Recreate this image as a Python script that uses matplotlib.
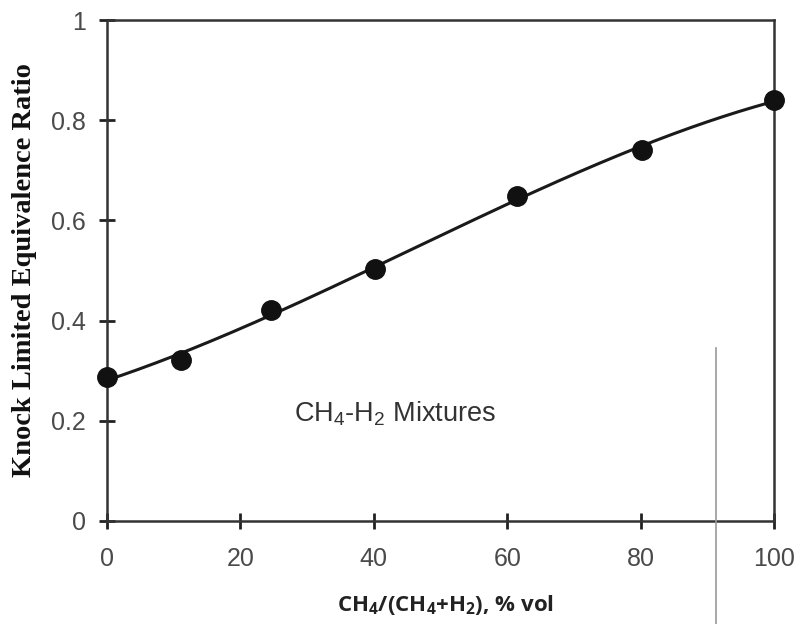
import numpy as np
import matplotlib
matplotlib.use("Agg")
import matplotlib.pyplot as plt

# Data
ch4_pct = [0, 11.1, 24.6, 40.2, 61.5, 80.2, 100]
klr = [0.287, 0.321, 0.421, 0.503, 0.649, 0.741, 0.840]
xticks = [0, 20, 40, 60, 80, 100]
yticks = [0, 0.2, 0.4, 0.6, 0.8, 1]
ytick_labels = ["0", "0.2", "0.4", "0.6", "0.8", "1"]

fig = plt.figure(figsize=(7.98, 6.24), dpi=100)
ax = fig.add_axes([107/798, 1-521/624, (774-107)/798, (521-20)/624])

# fitted trend curve
coef = np.polyfit(ch4_pct, klr, 3)
xs = np.linspace(0, 100, 300)
ax.plot(xs, np.polyval(coef, xs), color="#1a1a1a", lw=2.2, zorder=2)
ax.plot(ch4_pct, klr, "o", color="#111111", ms=14, zorder=3, clip_on=False)

ax.set_xlim(0, 100)
ax.set_ylim(0, 1)
ax.set_xticks(xticks)
ax.set_yticks(yticks)
ax.set_yticklabels(ytick_labels)
for s in ax.spines.values():
    s.set_color("#333333")
    s.set_linewidth(1.8)
ax.tick_params(direction="inout", length=12, width=2, color="#222222",
               labelsize=18, labelcolor="#4a4a4a")
ax.tick_params(axis="x", pad=13)
ax.tick_params(axis="y", pad=9)
for lab in ax.get_xticklabels() + ax.get_yticklabels():
    lab.set_family("Liberation Sans")

ax.set_ylabel("Knock Limited Equivalence Ratio", family="Liberation Serif",
              fontweight="bold", fontsize=20.5, color="#111111",
              va="center", ha="center")
ax.yaxis.set_label_coords(-0.123, 0.501)
ax.set_xlabel(r"CH$_\mathregular{4}$/(CH$_\mathregular{4}$+H$_\mathregular{2}$), % vol",
              family="Open Sans", fontweight="bold", fontsize=16,
              color="#222222", va="center", ha="center")
ax.xaxis.set_label_coords(0.508, -0.168)

ax.text(28, 0.215, r"CH$_\mathregular{4}$-H$_\mathregular{2}$ Mixtures",
        family="Liberation Sans", fontsize=19.5, color="#333333", va="center")

# stray vertical line artifact
fig.add_artist(plt.Line2D([716/798, 716/798], [0, 1-348/624],
                          color="#999999", lw=1.2))

fig.savefig("out.png", dpi=100)
